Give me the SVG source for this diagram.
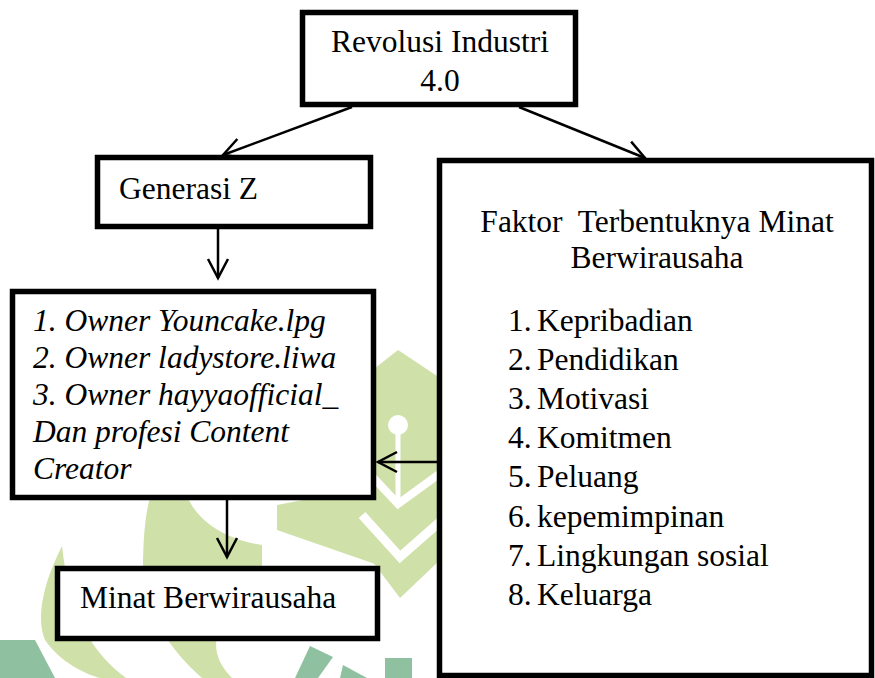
<svg xmlns="http://www.w3.org/2000/svg" width="875" height="678" viewBox="0 0 875 678">
<style>
.box{fill:#fff;stroke:#000;stroke-width:5.5}
.t{font-family:"Liberation Serif","Times New Roman",serif;font-size:31.5px;fill:#000}
.i{font-style:italic}
.c{text-anchor:middle}
.con line{stroke:#000;stroke-width:2.5;fill:none}
.wl{fill:#cfe0a8}
.wt{fill:#8fc0a0}
</style>
<defs>
<marker id="ah" markerUnits="userSpaceOnUse" markerWidth="24" markerHeight="24" refX="20" refY="10" orient="auto" overflow="visible">
<path d="M1,0 L20,10 L1,20" fill="none" stroke="#000" stroke-width="2.5"/>
</marker>
</defs>
<rect width="875" height="678" fill="#fff"/>
<g id="watermark">
<path class="wl" d="M62,546 C45,580 35,615 45,640 C60,662 85,674 100,678 L126,678 C95,655 70,620 62,546 Z"/>
<path class="wl" d="M150,498 L188,498 C200,525 230,540 262,545 L262,572 C230,610 195,640 232,678 L202,678 C170,650 143,610 143,570 C143,540 145,515 150,498 Z"/>
<path class="wl" d="M277,505 L340,493 L378,490 L378,565 L277,530 Z"/>
<path class="wl" d="M398,350 L440,378 L440,560 L400,598 L360,545 L360,380 Z"/>
<polyline points="368,472 398,504 442,472" fill="none" stroke="#fff" stroke-width="8"/>
<polyline points="362,515 400,557 442,520" fill="none" stroke="#fff" stroke-width="9"/>
<circle cx="398" cy="425" r="10" fill="#fff"/>
<rect x="395.5" y="425" width="5" height="75" fill="#fff"/>
<path class="wt" d="M0,640 L35,640 L55,678 L0,678 Z"/>
<path class="wt" d="M310,646 L333,657 L318,678 L295,678 Z"/>
<path class="wt" d="M343,665 L367,678 L340,678 Z"/>
<rect class="wt" x="385" y="658" width="27" height="20"/>
</g>
<g id="connectors" class="con">
<line x1="352" y1="107" x2="223" y2="155" marker-end="url(#ah)"/>
<line x1="519" y1="107" x2="645" y2="158" marker-end="url(#ah)"/>
<line x1="218" y1="229" x2="218" y2="278" marker-end="url(#ah)"/>
<line x1="227" y1="500" x2="227" y2="557" marker-end="url(#ah)"/>
<line x1="437" y1="462" x2="378" y2="462" marker-end="url(#ah)"/>
</g>
<g id="revolusi">
<rect class="box" x="302.5" y="12.5" width="273" height="92"/>
<text class="t c" x="440" y="52">Revolusi Industri</text>
<text class="t c" x="440" y="91">4.0</text>
</g>
<g id="generasi">
<rect class="box" x="97.5" y="157.5" width="273" height="69"/>
<text class="t" x="119" y="199">Generasi Z</text>
</g>
<g id="faktor">
<rect class="box" x="439.5" y="160.5" width="432" height="515"/>
<text class="t c" x="657" y="232" xml:space="preserve">Faktor  Terbentuknya Minat</text>
<text class="t c" x="657" y="268">Berwirausaha</text>
<text class="t" y="331"><tspan x="508">1.</tspan><tspan x="537">Kepribadian</tspan></text>
<text class="t" y="370"><tspan x="508">2.</tspan><tspan x="537">Pendidikan</tspan></text>
<text class="t" y="409"><tspan x="508">3.</tspan><tspan x="537">Motivasi</tspan></text>
<text class="t" y="448"><tspan x="508">4.</tspan><tspan x="537">Komitmen</tspan></text>
<text class="t" y="487"><tspan x="508">5.</tspan><tspan x="537">Peluang</tspan></text>
<text class="t" y="527"><tspan x="508">6.</tspan><tspan x="537">kepemimpinan</tspan></text>
<text class="t" y="566"><tspan x="508">7.</tspan><tspan x="537">Lingkungan sosial</tspan></text>
<text class="t" y="605"><tspan x="508">8.</tspan><tspan x="537">Keluarga</tspan></text>
</g>
<g id="owners">
<rect class="box" x="12.5" y="291.5" width="361" height="206"/>
<text class="t i" x="33" y="331">1. Owner Youncake.lpg</text>
<text class="t i" x="33" y="368">2. Owner ladystore.liwa</text>
<text class="t i" x="33" y="405">3. Owner hayyaofficial_</text>
<text class="t i" x="33" y="442">Dan profesi Content</text>
<text class="t i" x="33" y="479">Creator</text>
</g>
<g id="minat">
<rect class="box" x="57.5" y="568.5" width="320" height="70"/>
<text class="t" x="80" y="608">Minat Berwirausaha</text>
</g>
</svg>
